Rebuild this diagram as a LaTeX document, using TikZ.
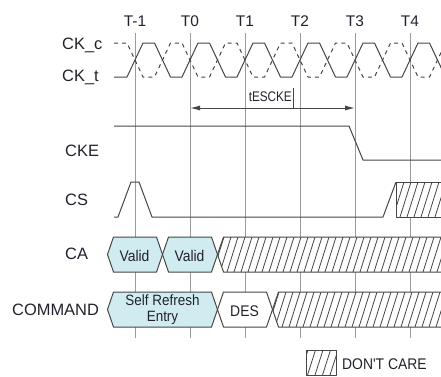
\documentclass[tikz,border=0pt]{standalone}
\usepackage{fontspec}
\setmainfont{Liberation Sans}
\newfontfamily\cond[FakeStretch=0.9]{Liberation Sans}
\newfontfamily\condd[FakeStretch=0.84]{Liberation Sans}
\usetikzlibrary{arrows.meta}
\definecolor{boxfill}{HTML}{D0ECF0}
\definecolor{sigcol}{HTML}{464646}
\definecolor{gridcol}{HTML}{9A9A9A}
\definecolor{txtcol}{HTML}{22222E}
\begin{document}
\begin{tikzpicture}[x=1bp,y=-1bp,
  sig/.style={draw=sigcol, line width=1bp, line join=round},
  gridline/.style={draw=gridcol, line width=0.9bp},
  lbl/.style={text=txtcol, font=\fontsize{16.5}{18}\selectfont, inner sep=0pt, anchor=base west},
  tlab/.style={text=txtcol, font=\fontsize{15.5}{18}\selectfont, inner sep=0pt, anchor=base},
  boxtxt/.style={text=txtcol, font=\cond\fontsize{15.5}{16}\selectfont, inner sep=0pt, anchor=base},
  hatchline/.style={draw=sigcol, line width=0.8bp},
  valbox/.style={sig, fill=boxfill},
  dcbox/.style={sig, fill=white}]
\clip (0,0) rectangle (441,376);
\fill[white] (0,0) rectangle (441,376);

% time labels and grid lines
\foreach \i/\t in {0/T-1,1/T0,2/T1,3/T2,4/T3,5/T4} {
  \node[tlab] (lab\i) at ({135+55*\i},26.5) {\t};
  \coordinate (top\i) at ({135+55*\i},33);
  \coordinate (bot\i) at ({135+55*\i},338);
  \draw[gridline] (top\i) -- (bot\i);
}

% signal labels
\node[lbl] (ckc) at (62,49.5) {CK\_c};
\node[lbl] (ckt) at (62,81.5) {CK\_t};
\node[lbl] (cke) at (65,156) {CKE};
\node[lbl] (cs) at (65,205) {CS};
\node[lbl] (ca) at (65,259) {CA};
\node[lbl] (cmd) at (12,315) {COMMAND};

% clocks
\draw[sig] (114,77) \foreach \m in {0,...,5} {
  -- ({127+55*\m},77) -- ({143+55*\m},43) -- ({154.5+55*\m},43) -- ({170.5+55*\m},77) };
\draw[sig, dash pattern=on 4bp off 4bp] (114,43) \foreach \m in {0,...,5} {
  -- ({127+55*\m},43) -- ({143+55*\m},77) -- ({154.5+55*\m},77) -- ({170.5+55*\m},43) };

% tESCKE
\coordinate (ar0) at (190,108);
\coordinate (ar3) at (355,108);
\coordinate (tk1) at (293,88);
\coordinate (tk2) at (293,108);
\draw[sig, {Latex[length=10bp,width=5bp]}-{Latex[length=10bp,width=5bp]}] (ar0) -- (ar3);
\draw[sig] (tk1) -- (tk2);
\node[text=txtcol, font=\condd\fontsize{14}{16}\selectfont, inner sep=0pt, anchor=base east] (tes) at (292,101.5) {tESCKE};

% CKE
\draw[sig] (114,126) -- (349,126) -- (363,160) -- (445,160);

% CS
\draw[sig] (114,217) -- (118,217) -- (131,182) -- (139,182) -- (152,217) -- (383,217) -- (396,182);
\fill[white] (396,182) rectangle (450,217);
\begin{scope}
  \clip (396,182) rectangle (450,217);
  \foreach \x in {386,393,...,450} \draw[hatchline] (\x,217) -- ++(11,-35);
\end{scope}
\draw[sig] (450,182) -- (396,182) -- (396,217) -- (450,217);

% CA
\draw[valbox] (107.5,254.5) -- (113.5,237) -- (156.5,237) -- (162.5,254.5) -- (156.5,272) -- (113.5,272) -- cycle;
\draw[valbox] (162.5,254.5) -- (168.5,237) -- (211.5,237) -- (217.5,254.5) -- (211.5,272) -- (168.5,272) -- cycle;
\node[boxtxt] (v1) at (134.5,261.5) {Valid};
\node[boxtxt] (v2) at (189.5,261.5) {Valid};
\fill[white] (217.5,254.5) -- (223.5,237) -- (450,237) -- (450,272) -- (223.5,272) -- cycle;
\begin{scope}
  \clip (217.5,254.5) -- (223.5,237) -- (450,237) -- (450,272) -- (223.5,272) -- cycle;
  \foreach \x in {206,213,...,450} \draw[hatchline] (\x,272) -- ++(11,-35);
\end{scope}
\draw[sig] (450,237) -- (223.5,237) -- (217.5,254.5) -- (223.5,272) -- (450,272);

% COMMAND
\draw[valbox] (107.5,309.5) -- (113.5,292) -- (211.5,292) -- (217.5,309.5) -- (211.5,327) -- (113.5,327) -- cycle;
\draw[dcbox] (217.5,309.5) -- (223.5,292) -- (266.5,292) -- (272.5,309.5) -- (266.5,327) -- (223.5,327) -- cycle;
\node[boxtxt, font=\cond\fontsize{15}{16}\selectfont] (sre1) at (162.5,305) {Self Refresh};
\node[boxtxt, font=\cond\fontsize{15}{16}\selectfont] (sre2) at (162.5,321) {Entry};
\node[boxtxt] (des) at (244.5,316) {DES};
\fill[white] (272.5,309.5) -- (278.5,292) -- (450,292) -- (450,327) -- (278.5,327) -- cycle;
\begin{scope}
  \clip (272.5,309.5) -- (278.5,292) -- (450,292) -- (450,327) -- (278.5,327) -- cycle;
  \foreach \x in {261,268,...,450} \draw[hatchline] (\x,327) -- ++(11,-35);
\end{scope}
\draw[sig] (450,292) -- (278.5,292) -- (272.5,309.5) -- (278.5,327) -- (450,327);

% legend
\begin{scope}
  \clip (306,350) rectangle (336,375);
  \foreach \x in {300,307.5,...,340} \draw[hatchline] (\x,375) -- ++(8,-25);
\end{scope}
\draw[sig] (306,350) rectangle (336,375);
\node[text=txtcol, font=\cond\fontsize{15.5}{16}\selectfont, inner sep=0pt, anchor=base west] (dc) at (342,369) {DON'T CARE};
\end{tikzpicture}
\end{document}
